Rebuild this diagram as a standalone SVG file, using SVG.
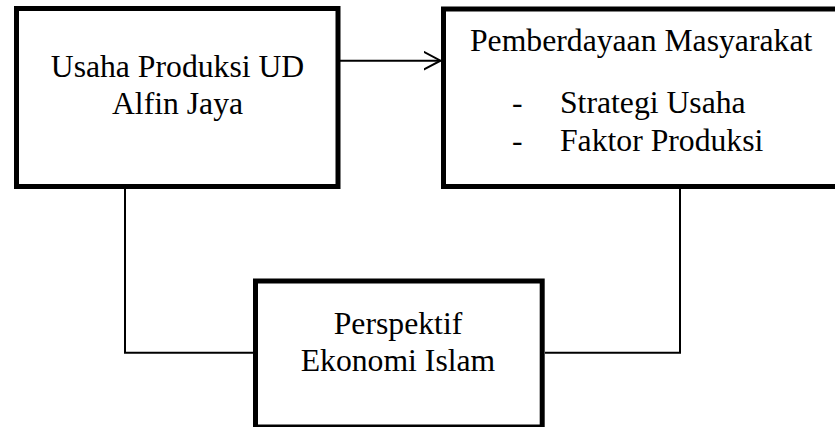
<svg xmlns="http://www.w3.org/2000/svg" width="835" height="427" viewBox="0 0 835 427">
  <style>
    .box { fill: #ffffff; stroke: #000000; stroke-width: 5; }
    text { font-family: 'Liberation Serif', 'Times New Roman', serif; font-size: 31.7px; fill: #000000; }
    .mid { text-anchor: middle; }
    .conn { fill: none; stroke: #000000; stroke-width: 2; }
  </style>
  <defs>
    <marker id="arrow" markerUnits="userSpaceOnUse" markerWidth="20" markerHeight="24" refX="17" refY="10" orient="auto">
      <path d="M0,1 L17,10 L0,19" fill="none" stroke="#000000" stroke-width="2"/>
    </marker>
  </defs>
  <rect width="835" height="427" fill="#ffffff"/>

  <g id="connectors">
    <line class="conn" x1="340" y1="60.7" x2="440.5" y2="60.7" marker-end="url(#arrow)"/>
    <polyline class="conn" points="125,188 125,352.7 254,352.7"/>
    <polyline class="conn" points="545,352.7 680,352.7 680,188"/>
  </g>

  <g id="node-usaha">
    <rect class="box" x="16.5" y="8.5" width="321.5" height="178"/>
    <text class="mid" x="177.5" y="77.3">Usaha Produksi UD</text>
    <text class="mid" x="177.5" y="114.3">Alfin Jaya</text>
  </g>

  <g id="node-pemberdayaan">
    <rect class="box" x="443.5" y="9" width="397" height="177.5"/>
    <text x="470" y="50.5">Pemberdayaan Masyarakat</text>
    <text x="512" y="112.5">-</text>
    <text x="560" y="112.5">Strategi Usaha</text>
    <text x="512" y="151">-</text>
    <text x="560" y="151">Faktor Produksi</text>
  </g>

  <g id="node-perspektif">
    <rect class="box" x="255.5" y="281" width="286.7" height="146"/>
    <text class="mid" x="398" y="334">Perspektif</text>
    <text class="mid" x="398" y="370.5">Ekonomi Islam</text>
  </g>
</svg>
